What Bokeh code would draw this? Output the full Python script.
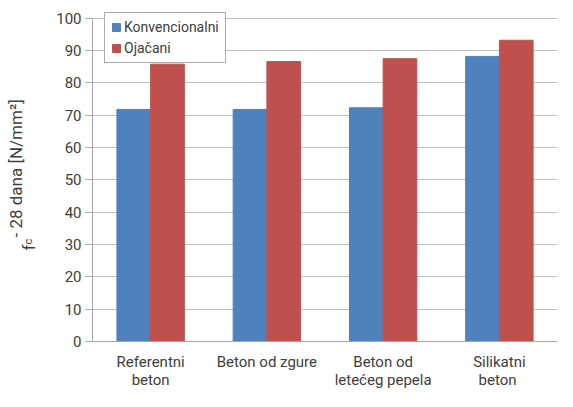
import math
from bokeh.plotting import figure
from bokeh.models import (ColumnDataSource, FactorRange, Range1d, Legend, LegendItem, Label,
                          FixedTicker, CategoricalAxis)
from bokeh.transform import dodge
from bokeh.embed import file_html
from bokeh.resources import INLINE

categories = ["Referentni beton", "Beton od zgure", "Beton od letećeg pepela", "Silikatni beton"]
tick_line1 = ["Referentni", "Beton od zgure", "Beton od", "Silikatni"]
tick_line2 = ["beton", " ", "letećeg pepela", "beton "]
konvencionalni = [71.8, 71.8, 72.3, 88.2]
ojacani = [85.8, 86.6, 87.5, 93.2]
series_names = ["Konvencionalni", "Ojačani"]
y_ticks = list(range(0, 101, 10))

FONT = "Roboto"
TXT = "#404040"
BLUE = "#4F81BD"
RED = "#C0504D"
GRID = "#BFBFBF"
AX = "#A6A6A6"

src = ColumnDataSource(dict(cat=categories, k=konvencionalni, o=ojacani))

p = figure(width=557, height=391, x_range=FactorRange(*categories, range_padding=0),
           y_range=Range1d(0, 105.5), output_backend="svg", toolbar_location=None,
           min_border_left=85, min_border_right=0, min_border_top=0, min_border_bottom=40)
p.outline_line_color = None
p.extra_x_ranges = {"l1": FactorRange(*tick_line1, range_padding=0),
                    "l2": FactorRange(*tick_line2, range_padding=0)}

r1 = p.vbar(x=dodge("cat", -0.145, range=p.x_range), top="k", width=0.29, source=src,
            fill_color=BLUE, line_color=BLUE)
r2 = p.vbar(x=dodge("cat", 0.145, range=p.x_range), top="o", width=0.29, source=src,
            fill_color=RED, line_color=RED)

p.xgrid.grid_line_color = None
p.ygrid.grid_line_color = GRID
p.ygrid.grid_line_width = 1.2

p.yaxis.ticker = FixedTicker(ticks=y_ticks)
p.yaxis.bounds = (0, 100)
p.yaxis.major_tick_out = 7
p.yaxis.major_tick_in = 0
p.yaxis.minor_tick_line_color = None
p.yaxis.major_tick_line_color = AX
p.yaxis.axis_line_color = AX
p.yaxis.major_label_text_font = FONT
p.yaxis.major_label_text_font_size = "15px"
p.yaxis.major_label_text_color = TXT
p.yaxis.major_label_standoff = 4

p.xaxis.visible = False
for name, standoff in (("l1", 5), ("l2", -9)):
    ax = CategoricalAxis(x_range_name=name, major_tick_line_color=None, minor_tick_line_color=None,
                         major_label_text_font=FONT, major_label_text_font_size="15px",
                         major_label_text_color=TXT, major_label_standoff=standoff,
                         axis_line_color=AX if name == "l1" else None)
    p.add_layout(ax, "below")

# y axis label with subscript (each Label gets its own column in the left side panel)
lab_font = "17px"
p.add_layout(Label(x=-5, y=91, x_units="screen", y_units="screen", text="f", angle=math.pi/2,
                   text_font=FONT, text_font_size=lab_font, text_color=TXT, text_baseline="alphabetic"), "left")
p.add_layout(Label(x=7.5, y=97, x_units="screen", y_units="screen", text="c", angle=math.pi/2,
                   text_font=FONT, text_font_size="11px", text_color=TXT, text_baseline="alphabetic"), "left")
p.add_layout(Label(x=15, y=104, x_units="screen", y_units="screen", text="- 28 dana [N/mm²]", angle=math.pi/2,
                   text_font=FONT, text_font_size=lab_font, text_color=TXT, text_baseline="alphabetic"), "left")

legend = Legend(items=[LegendItem(label=series_names[0], renderers=[r1]),
                       LegendItem(label=series_names[1], renderers=[r2])],
                location="top_left")
legend.glyph_width = 10
legend.glyph_height = 10
legend.label_text_font = FONT
legend.label_text_font_size = "14px"
legend.label_text_color = TXT
legend.label_standoff = 3
legend.spacing = 5
legend.padding = 6
legend.margin = 12
legend.border_line_color = "#595959"
legend.border_line_width = 1
legend.background_fill_alpha = 1
p.add_layout(legend, "center")

open("out.html", "w").write(file_html(p, INLINE))
